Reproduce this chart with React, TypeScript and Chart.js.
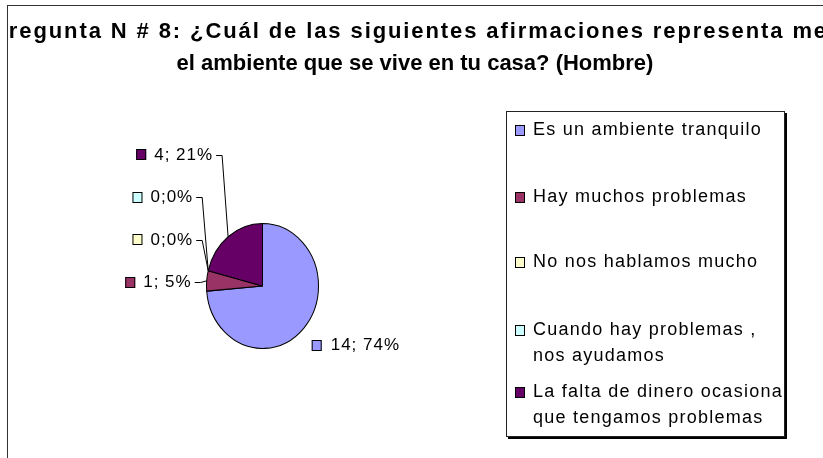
import React, { useEffect, useRef } from "react";
import { Chart, registerables } from "chart.js";

Chart.register(...registerables);

const titleLines = [
  "Pregunta N # 8: ¿Cuál de las siguientes afirmaciones representa mejor",
  "el ambiente que se vive en tu casa? (Hombre)",
];
const categories = [
  "Es un ambiente tranquilo",
  "Hay muchos problemas",
  "No nos hablamos mucho",
  "Cuando hay problemas, nos ayudamos",
  "La falta de dinero ocasiona que tengamos problemas",
];
const legendLines = [
  ["Es un ambiente tranquilo"],
  ["Hay muchos problemas"],
  ["No nos hablamos mucho"],
  ["Cuando hay problemas ,", "nos ayudamos"],
  ["La falta de dinero ocasiona", "que tengamos problemas"],
];
const counts = [14, 1, 0, 0, 4];
const dataLabels = ["14; 74%", "1; 5%", "0;0%", "0;0%", "4; 21%"];
const colors = ["#9999FF", "#993366", "#FFFFCC", "#CCFFFF", "#660066"];

const W = 823;
const H = 458;
const ELLIPSE_Y = 63 / 56.5;
const FONT = '"Liberation Sans", Arial, sans-serif';
const TITLE_SPACING = ["1.9px", "0px"];
const TITLE_CX = [427, 415];

function swatch(ctx: CanvasRenderingContext2D, x: number, cy: number, color: string) {
  const w = 10, h = 11;
  const top = Math.round(cy - h / 2);
  ctx.fillStyle = color;
  ctx.fillRect(x, top, w, h);
  ctx.strokeStyle = "#000";
  ctx.lineWidth = 1;
  ctx.strokeRect(x + 0.5, top + 0.5, w - 1, h - 1);
}

function drawLabels(chart: any) {
  const meta = chart.getDatasetMeta(0);
  const ctx: CanvasRenderingContext2D = chart.ctx;
  ctx.save();
  ctx.font = `17px ${FONT}`;
  (ctx as any).letterSpacing = "1px";
  ctx.textBaseline = "middle";
  let prevY = Infinity;
  meta.data.forEach((arc: any, i: number) => {
    const p = arc.getProps(["x", "y", "startAngle", "endAngle", "outerRadius"], true);
    const mid = (p.startAngle + p.endAngle) / 2;
    const ax = p.x + Math.cos(mid) * p.outerRadius;
    const ay = p.y + Math.sin(mid) * p.outerRadius * ELLIPSE_Y;
    const text = dataLabels[i];
    const tw = ctx.measureText(text).width;
    if (Math.cos(mid) >= 0) {
      const ly = ay + 17;
      const sx = ax + 8;
      swatch(ctx, sx, ly, colors[i]);
      ctx.fillStyle = "#000";
      ctx.textAlign = "left";
      ctx.fillText(text, sx + 19, ly);
    } else {
      const ly = Math.min(ay + 1.5, prevY - 42.5);
      prevY = ly;
      const textEnd = ax - 15;
      const textStart = textEnd - tw;
      ctx.fillStyle = "#000";
      ctx.textAlign = "left";
      ctx.fillText(text, textStart, ly);
      swatch(ctx, textStart - 18, ly, colors[i]);
      const yy = Math.round(ly) + 0.5;
      ctx.strokeStyle = "#000";
      ctx.lineWidth = 1;
      ctx.beginPath();
      ctx.moveTo(textEnd + 3, yy);
      ctx.lineTo(ax - 6, yy);
      ctx.lineTo(ax, ay);
      ctx.stroke();
    }
  });
  ctx.restore();
}

function drawLegend(chart: any) {
  const ctx: CanvasRenderingContext2D = chart.ctx;
  const L = 506, T = 111, R = 784, B = 436;
  ctx.save();
  ctx.fillStyle = "#fff";
  ctx.fillRect(L, T, R - L, B - T);
  ctx.strokeStyle = "#222";
  ctx.lineWidth = 1;
  ctx.strokeRect(L + 0.5, T + 0.5, R - L, B - T);
  ctx.fillStyle = "#000";
  ctx.fillRect(R + 1, T + 2, 2, B - T + 1);
  ctx.fillRect(L + 2, B + 1, R - L + 1, 2);
  const firstY = [19, 86, 151, 219, 281];
  ctx.font = `18px ${FONT}`;
  (ctx as any).letterSpacing = "1.25px";
  ctx.textBaseline = "middle";
  ctx.textAlign = "left";
  legendLines.forEach((lines, i) => {
    const y = T + firstY[i];
    swatch(ctx, 515, y, colors[i]);
    ctx.fillStyle = "#000";
    lines.forEach((ln, j) => ctx.fillText(ln, 533, y + j * 26));
  });
  ctx.restore();
}

const framePlugin = {
  id: "frameTitle",
  beforeDraw(chart: any) {
    const ctx: CanvasRenderingContext2D = chart.ctx;
    ctx.save();
    ctx.fillStyle = "#fff";
    ctx.fillRect(0, 0, W, H);
    ctx.strokeStyle = "#333";
    ctx.lineWidth = 1;
    ctx.strokeRect(7.5, 5.5, W + 40, H + 40);
    ctx.beginPath();
    ctx.rect(8, 6, W, H);
    ctx.clip();
    ctx.fillStyle = "#000";
    ctx.font = `bold 22px ${FONT}`;
    ctx.textAlign = "center";
    ctx.textBaseline = "alphabetic";
    titleLines.forEach((t, i) => {
      (ctx as any).letterSpacing = TITLE_SPACING[i];
      ctx.fillText(t, TITLE_CX[i], 38 + i * 32);
    });
    ctx.restore();
  },
};

const ellipsePlugin = {
  id: "ellipse",
  beforeDatasetsDraw(chart: any) {
    const arc = chart.getDatasetMeta(0).data[0];
    const ctx: CanvasRenderingContext2D = chart.ctx;
    ctx.save();
    ctx.translate(arc.x, arc.y);
    ctx.scale(1, ELLIPSE_Y);
    ctx.translate(-arc.x, -arc.y);
  },
  afterDatasetsDraw(chart: any) {
    chart.ctx.restore();
    drawLabels(chart);
    drawLegend(chart);
  },
};

export default function App() {
  const ref = useRef<HTMLCanvasElement | null>(null);
  useEffect(() => {
    document.body.style.margin = "0";
    const canvas = ref.current!;
    const chart = new Chart(canvas, {
      type: "pie",
      data: {
        labels: categories,
        datasets: [
          {
            data: counts,
            backgroundColor: colors,
            borderColor: "#000",
            borderWidth: 1,
            clip: false as any,
          },
        ],
      },
      options: {
        responsive: false,
        animation: false,
        events: [],
        layout: { padding: { left: 206, right: 504, top: 229, bottom: 115 } },
        plugins: {
          legend: { display: false },
          title: { display: false },
          tooltip: { enabled: false },
        },
      },
      plugins: [framePlugin, ellipsePlugin],
    });
    return () => chart.destroy();
  }, []);
  return <canvas ref={ref} width={W} height={H} style={{ display: "block", width: W, height: H }} />;
}
